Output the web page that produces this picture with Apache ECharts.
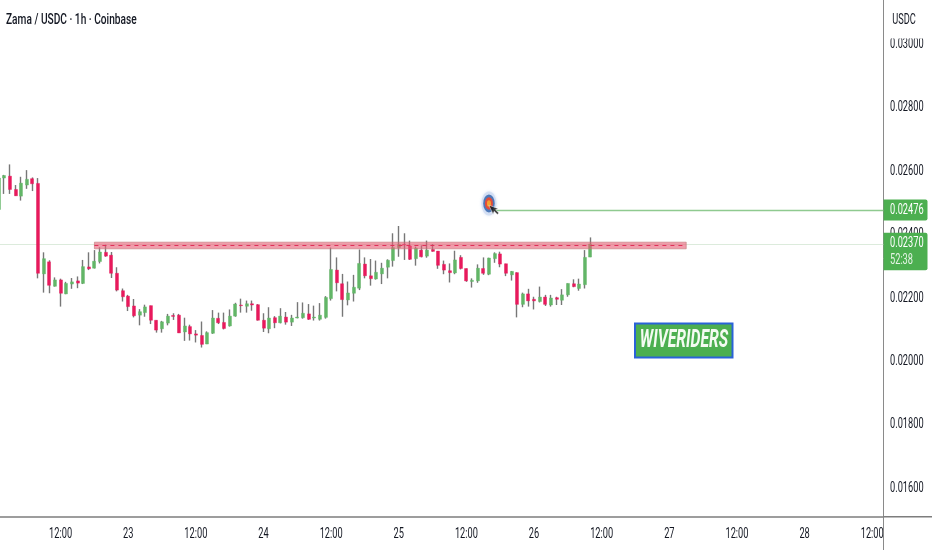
<!DOCTYPE html>
<html>
<head>
<meta charset="utf-8">
<style>html,body{margin:0;padding:0;background:#fff}#c{width:932px;height:550px}</style>
<script src="https://cdn.jsdelivr.net/npm/echarts@6/dist/echarts.min.js"></script>
</head>
<body>
<div id="c"></div>
<script>
const opens=[0.02479,0.02578,0.02584,0.02542,0.02521,0.02556,0.02576,0.02561,0.02276,0.02314,0.02237,0.02257,0.02213,0.02244,0.02254,0.02246,0.02298,0.02294,0.02315,0.02344,0.02335,0.02278,0.02223,0.02206,0.02175,0.02146,0.02154,0.02176,0.02130,0.02103,0.02121,0.02145,0.02146,0.02093,0.02110,0.02087,0.02082,0.02055,0.02089,0.02136,0.02123,0.02112,0.02143,0.02178,0.02174,0.02182,0.02179,0.02130,0.02103,0.02138,0.02122,0.02140,0.02124,0.02137,0.02138,0.02150,0.02137,0.02133,0.02139,0.02198,0.02288,0.02245,0.02194,0.02215,0.02231,0.02307,0.02270,0.02260,0.02276,0.02297,0.02318,0.02359,0.02369,0.02364,0.02324,0.02351,0.02332,0.02353,0.02348,0.02306,0.02286,0.02279,0.02328,0.02293,0.02252,0.02254,0.02293,0.02275,0.02324,0.02339,0.02308,0.02273,0.02280,0.02180,0.02213,0.02196,0.02189,0.02203,0.02178,0.02201,0.02193,0.02210,0.02245,0.02230,0.02242,0.02329];
const closes=[0.02578,0.02586,0.02542,0.02522,0.02562,0.02574,0.02560,0.02278,0.02324,0.02240,0.02257,0.02215,0.02246,0.02251,0.02247,0.02299,0.02292,0.02316,0.02345,0.02332,0.02278,0.02225,0.02204,0.02173,0.02144,0.02157,0.02172,0.02130,0.02099,0.02125,0.02143,0.02142,0.02090,0.02112,0.02087,0.02083,0.02054,0.02091,0.02137,0.02122,0.02104,0.02143,0.02181,0.02176,0.02182,0.02178,0.02130,0.02105,0.02137,0.02122,0.02143,0.02124,0.02137,0.02140,0.02152,0.02133,0.02140,0.02146,0.02202,0.02290,0.02248,0.02195,0.02216,0.02234,0.02309,0.02270,0.02261,0.02281,0.02294,0.02319,0.02359,0.02369,0.02367,0.02322,0.02357,0.02330,0.02351,0.02347,0.02303,0.02288,0.02280,0.02320,0.02293,0.02254,0.02256,0.02294,0.02278,0.02326,0.02340,0.02307,0.02278,0.02284,0.02180,0.02213,0.02191,0.02191,0.02203,0.02180,0.02200,0.02196,0.02210,0.02246,0.02236,0.02244,0.02328,0.02370];
const lows=[0.02479,0.02528,0.02528,0.02522,0.02507,0.02544,0.02537,0.02262,0.02217,0.02215,0.02236,0.02173,0.02212,0.02229,0.02231,0.02244,0.02288,0.02293,0.02309,0.02330,0.02263,0.02221,0.02189,0.02159,0.02139,0.02114,0.02141,0.02118,0.02091,0.02091,0.02114,0.02131,0.02090,0.02065,0.02066,0.02060,0.02044,0.02055,0.02087,0.02118,0.02101,0.02110,0.02141,0.02154,0.02154,0.02160,0.02129,0.02093,0.02089,0.02105,0.02120,0.02116,0.02112,0.02136,0.02135,0.02131,0.02129,0.02129,0.02135,0.02192,0.02221,0.02141,0.02177,0.02189,0.02225,0.02262,0.02239,0.02258,0.02244,0.02262,0.02299,0.02330,0.02320,0.02320,0.02302,0.02328,0.02327,0.02346,0.02292,0.02275,0.02249,0.02275,0.02290,0.02251,0.02233,0.02248,0.02273,0.02272,0.02311,0.02297,0.02269,0.02255,0.02139,0.02171,0.02173,0.02164,0.02186,0.02175,0.02173,0.02178,0.02178,0.02204,0.02234,0.02223,0.02230,0.02329];
const highs=[0.02582,0.02588,0.02621,0.02556,0.02582,0.02603,0.02580,0.02578,0.02344,0.02319,0.02265,0.02261,0.02251,0.02263,0.02268,0.02320,0.02344,0.02351,0.02360,0.02368,0.02345,0.02297,0.02230,0.02210,0.02197,0.02165,0.02179,0.02176,0.02130,0.02128,0.02150,0.02152,0.02150,0.02138,0.02116,0.02099,0.02126,0.02095,0.02162,0.02154,0.02154,0.02164,0.02185,0.02198,0.02192,0.02192,0.02181,0.02152,0.02171,0.02143,0.02168,0.02156,0.02147,0.02187,0.02186,0.02181,0.02176,0.02184,0.02206,0.02359,0.02328,0.02276,0.02252,0.02273,0.02353,0.02328,0.02323,0.02318,0.02311,0.02322,0.02404,0.02427,0.02404,0.02381,0.02362,0.02366,0.02381,0.02370,0.02348,0.02318,0.02309,0.02349,0.02335,0.02293,0.02262,0.02306,0.02328,0.02327,0.02344,0.02346,0.02308,0.02285,0.02281,0.02217,0.02229,0.02204,0.02236,0.02210,0.02210,0.02204,0.02228,0.02246,0.02259,0.02261,0.02351,0.02391];
const priceTicks=[0.016,0.018,0.02,0.022,0.024,0.026,0.028,0.03];
const lastPrice=0.0237, targetPrice=0.02476, zoneLow=0.02355, zoneHigh=0.02376, zoneMid=0.02365, targetMarker=0.02498, cursorMarker=0.0248;
const titleText='Zama / USDC · 1h · Coinbase';
const categories=[];
for(let i=0;i<158;i++){const h=1+i;categories.push({day:22+Math.floor(h/24),hour:h%24});}
const catKeys=categories.map(c=>c.day+' '+c.hour+':00');
const FONT='Roboto,"Liberation Sans",sans-serif';
const SX=0.66;
const GREEN='#62b667',RED='#e8195c',WICK='#777777',TAG='#4caf50';

const chart=echarts.init(document.getElementById('c'),null,{renderer:'canvas'});
const wickData=opens.map((o,i)=>[o,closes[i],lows[i],highs[i]]);
const bodyData=opens.map((o,i)=>[o,closes[i],Math.min(o,closes[i]),Math.max(o,closes[i])]);
function scatterLayer(val,idx,size,color,extra){
  return Object.assign({type:'scatter',data:[[idx,val]],symbolSize:size,silent:true,z:6,
    itemStyle:{color:color,opacity:1}},extra||{});
}
function label(x,y,text,o){
  o=o||{};
  return {type:'text',z:o.z||50,silent:true,x:x,y:y,scaleX:o.sx||SX,scaleY:1,
    style:{x:0,y:0,text:text,align:o.align||'left',verticalAlign:'middle',font:(o.font||'14px ')+FONT,fill:o.fill||'#131722'}};
}
chart.setOption({
  animation:false,
  backgroundColor:'#fff',
  grid:{left:-1.4,top:0,width:884.9,height:516.7,containLabel:false,outerBoundsMode:'none'},
  xAxis:{type:'category',data:catKeys,boundaryGap:false,
    axisLine:{show:true,lineStyle:{color:'#7d7d7d',width:1.5}},axisTick:{show:false},splitLine:{show:false},
    axisLabel:{show:false}},
  yAxis:{type:'value',position:'right',min:0.01511,max:0.03139,
    axisLine:{show:true,onZero:false,lineStyle:{color:'#8a8a8a',width:1}},axisTick:{show:false},splitLine:{show:false},
    axisLabel:{show:false}},
  series:[
    {type:'candlestick',name:'wick',data:wickData,barWidth:1,z:2,silent:true,
      itemStyle:{color:WICK,color0:WICK,borderColor:WICK,borderColor0:WICK,borderColorDoji:WICK,borderWidth:1.4},
      markLine:{silent:true,symbol:'none',animation:false,z:1,label:{show:false},
        data:[[{coord:[0,lastPrice],lineStyle:{color:'#dcebdc',width:1,type:'solid'}},{coord:[157,lastPrice]}],
              [{coord:[88,targetPrice],lineStyle:{color:'#8fca90',width:1.3,type:'solid'}},{coord:[157,targetPrice]}]]}},
    {type:'candlestick',name:'body',data:bodyData,barWidth:3.5,z:3,silent:true,
      itemStyle:{color:GREEN,color0:RED,borderColor:GREEN,borderColor0:RED,borderColorDoji:RED,borderWidth:0.4}},
    {type:'line',name:'zone',data:[],z:5,silent:true,
      markArea:{silent:true,z:5,itemStyle:{color:'rgba(232,90,115,0.6)',borderColor:'rgba(190,120,120,0.6)',borderWidth:1},
        data:[[{coord:[17,zoneHigh]},{coord:[122,zoneLow]}]]},
      markLine:{silent:true,symbol:'none',z:6,label:{show:false},
        data:[[{coord:[17,zoneMid],lineStyle:{color:'#e0305a',width:1,type:[4,4]}},{coord:[122,zoneMid]}]]}},
    scatterLayer(targetMarker,87,[15,24],'#cfdcf2',{itemStyle:{color:'#cfdcf2',shadowBlur:3,shadowColor:'#cfdcf2'}}),
    scatterLayer(targetMarker,87,[11.5,18],'#4d78b8'),
    scatterLayer(targetMarker,87,[8,12.5],'#e34c3c'),
    scatterLayer(targetMarker,87,[4,6.5],'#f6a12f'),
    scatterLayer(cursorMarker,88,[7,12],'#111',{symbol:'path://M0 0L0 14L3.4 11L6 17L9 15.8L6.4 10L11 10Z',symbolRotate:25,
      itemStyle:{color:'#111',borderColor:'#fff',borderWidth:0.5}})
  ]
});
const tickText=[];
priceTicks.forEach(v=>{
  const y=chart.convertToPixel({yAxisIndex:0},v);
  tickText.push(label(890,y,v.toFixed(5)));
});
categories.forEach((c,i)=>{
  if(c.hour%12!==0)return;
  const x=chart.convertToPixel({xAxisIndex:0},i);
  tickText.push(label(x,534,c.hour===12?'12:00':String(c.day),{align:'center'}));
});
chart.setOption({graphic:[
  ...tickText,
  label(6,20,titleText,{font:'500 14.5px ',sx:0.7,z:60}),
  {type:'rect',z:90,silent:true,shape:{x:884,y:517.5,width:48,height:33},style:{fill:'#fff'}},
  {type:'line',z:91,silent:true,shape:{x1:883.5,y1:516.7,x2:883.5,y2:550},style:{stroke:'#8a8a8a',lineWidth:1}},
  {type:'line',z:91,silent:true,shape:{x1:883.5,y1:516.7,x2:932,y2:516.7},style:{stroke:'#7d7d7d',lineWidth:1.5}},
  {type:'rect',z:90,silent:true,shape:{x:885,y:0,width:47,height:38.5},style:{fill:'#fff'}},
  label(904,20,'USDC',{align:'center',z:91}),
  {type:'rect',z:92,silent:true,shape:{x:883.5,y:199.5,width:44,height:21,r:[0,2,2,0]},style:{fill:TAG}},
  label(890,210.5,'0.02476',{z:93,fill:'#fff'}),
  {type:'rect',z:92,silent:true,shape:{x:883.5,y:232.7,width:44,height:37.5,r:[0,2,2,0]},style:{fill:TAG}},
  label(890,243.5,'0.02370',{z:93,fill:'#fff'}),
  label(890,260,'52:38',{z:93,fill:'#e6f4e6'}),
  {type:'rect',z:80,silent:true,shape:{x:635,y:323.5,width:97.5,height:34},style:{fill:TAG,stroke:'#2a62d8',lineWidth:2}},
  label(684,340.5,'WIVERIDERS',{z:81,align:'center',font:'italic bold 25px ',sx:0.63,fill:'#f4fbf2'})
]});
</script>
</body>
</html>
